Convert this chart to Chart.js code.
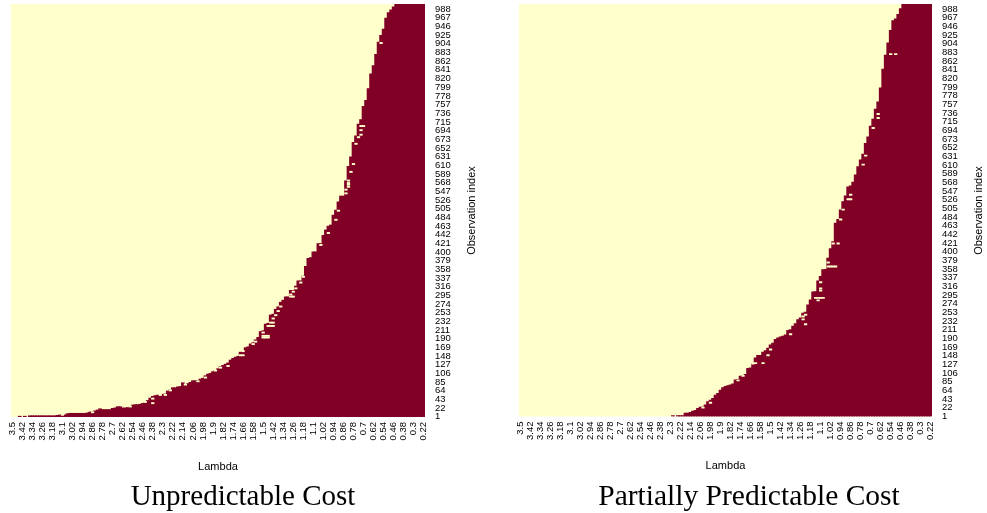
<!DOCTYPE html>
<html>
<head>
<title>Lambda heatmaps</title>
<script src="https://cdnjs.cloudflare.com/ajax/libs/Chart.js/4.4.1/chart.umd.min.js"></script>
<style>
body { margin:0; background:#fff; }
canvas { position:absolute; top:0; }
</style>
</head>
<body>
<canvas id="left" width="486" height="513" style="left:0px"></canvas>
<canvas id="right" width="482" height="513" style="left:508px"></canvas>

<script>
var lambdas = ['3.5','3.48','3.46','3.44','3.42','3.4','3.38','3.36','3.34','3.32','3.3','3.28','3.26','3.24','3.22','3.2','3.18','3.16','3.14','3.12','3.1','3.08','3.06','3.04','3.02','3','2.98','2.96','2.94','2.92','2.9','2.88','2.86','2.84','2.82','2.8','2.78','2.76','2.74','2.72','2.7','2.68','2.66','2.64','2.62','2.6','2.58','2.56','2.54','2.52','2.5','2.48','2.46','2.44','2.42','2.4','2.38','2.36','2.34','2.32','2.3','2.28','2.26','2.24','2.22','2.2','2.18','2.16','2.14','2.12','2.1','2.08','2.06','2.04','2.02','2','1.98','1.96','1.94','1.92','1.9','1.88','1.86','1.84','1.82','1.8','1.78','1.76','1.74','1.72','1.7','1.68','1.66','1.64','1.62','1.6','1.58','1.56','1.54','1.52','1.5','1.48','1.46','1.44','1.42','1.4','1.38','1.36','1.34','1.32','1.3','1.28','1.26','1.24','1.22','1.2','1.18','1.16','1.14','1.12','1.1','1.08','1.06','1.04','1.02','1','0.98','0.96','0.94','0.92','0.9','0.88','0.86','0.84','0.82','0.8','0.78','0.76','0.74','0.72','0.7','0.68','0.66','0.64','0.62','0.6','0.58','0.56','0.54','0.52','0.5','0.48','0.46','0.44','0.42','0.4','0.38','0.36','0.34','0.32','0.3','0.28','0.26','0.24','0.22'];

var xTickLabels = ['3.5','3.42','3.34','3.26','3.18','3.1','3.02','2.94','2.86','2.78','2.7','2.62','2.54','2.46','2.38','2.3','2.22','2.14','2.06','1.98','1.9','1.82','1.74','1.66','1.58','1.5','1.42','1.34','1.26','1.18','1.1','1.02','0.94','0.86','0.78','0.7','0.62','0.54','0.46','0.38','0.3','0.22'];

var yTickLabels = [1,22,43,64,85,106,127,148,169,190,211,232,253,274,295,316,337,358,379,400,421,442,463,484,505,526,547,568,589,610,631,652,673,694,715,736,757,778,799,820,841,862,883,904,925,946,967,988];

var leftValues = [
0,0,0,2,0,2,0,3,3,3,
3,3,3,3,3,3,3,3,4,5,
6,5,8,9,9,9,9,9,9,9,
10,12,13,15,17,20,18,18,18,18,
21,22,25,25,22,22,23,24,29,30,
30,31,33,35,40,46,50,52,53,54,
55,56,63,66,71,71,73,74,83,79,
81,84,88,88,89,92,94,100,104,106,
110,113,117,122,125,128,131,138,142,145,
147,157,158,168,170,177,180,187,193,207,
209,225,227,247,249,261,267,278,283,291,
291,307,307,317,330,330,341,365,384,386,
400,400,420,420,440,453,462,465,489,501,
521,535,535,572,607,630,665,681,709,720,
752,767,795,831,851,878,908,924,939,966,
979,986,993,1000,1000,1000,1000,1000,1000,1000,
1000,1000,1000,1000,1000];

var rightValues = [
0,0,0,0,0,0,0,0,0,0,
0,0,0,0,0,0,0,0,0,0,
0,0,0,0,0,0,0,0,0,0,
0,0,0,0,0,0,0,0,0,0,
0,0,0,0,0,0,0,0,0,0,
0,0,0,0,0,0,0,0,0,0,
0,2,0,2,2,2,8,8,10,13,
15,20,23,23,28,36,40,44,52,56,
64,70,73,75,77,79,89,90,98,100,
102,117,118,128,142,148,148,156,160,166,
174,178,187,191,193,195,198,209,211,219,
225,235,239,251,253,271,283,302,303,329,
340,356,357,384,407,424,469,478,501,521,
535,557,559,568,586,606,622,636,662,678,
704,721,745,763,797,842,876,906,936,960,
964,975,989,1000,1000,1000,1000,1000,1000,1000,
1000,1000,1000,1000,1000];

// single unselected observations inside the red area: lambda position and row
var leftGapCols = [136,135,134,134,134,134,133,133,130,129,126,123,116,115,113,112,111,111,112,107,106,105,104,103,104,102,103,104,100,100,101,102,100,101,102,97,96,92,91,92,86,83,81,77,74,69,63,61,59,56,56,53,47,32,20,139,140,139,139,138,137,147];
var leftGapRows = [611,592,571,565,561,556,549,540,498,476,444,415,338,324,310,302,295,290,290,266,255,245,237,227,227,219,219,219,203,195,195,195,191,191,191,181,175,158,148,148,122,118,111,94,85,77,63,52,52,43,32,35,24,10,4,703,703,693,682,676,660,904];

var rightGapCols = [138,137,132,131,132,129,128,125,127,123,123,124,125,126,120,120,120,118,119,120,121,119,114,113,113,114,108,100,99,97,94,148,150,143,143,141,73,76,87,89,93];
var rightGapRows = [631,609,536,525,525,500,476,418,418,372,362,362,362,362,324,309,304,286,286,286,286,280,245,241,234,222,198,161,147,128,128,877,877,732,722,698,20,32,86,97,127];

var CREAM = '#ffffcc';
var RED = '#800026';
var TICK_FONT = { family:'"Liberation Sans"', size:9.5 };

function gapPoints(cols, rows){
	return cols.map(function(c, i){
		return { x: lambdas[c], y: [rows[i], rows[i] + 3] };
	});
}

function drawPanel(id, caption, captionSize, values, gapCols, gapRows, axisWidth, titleX){
	var plotBottom = 417;
	var captionHeight = 30.5;

	var panelPlugin = {
		id: 'panel',
		beforeDatasetsDraw: function(chart){
			var a = chart.chartArea, c = chart.ctx;
			c.save();
			c.fillStyle = CREAM;
			c.fillRect(a.left, a.top, a.right - a.left, a.bottom - a.top);
			c.restore();
		},
		// chart.js turns a right hand axis title the other way, so it goes here
		afterDraw: function(chart){
			var c = chart.ctx;
			c.save();
			c.translate(titleX, 210.5);
			c.rotate(-Math.PI / 2);
			c.font = '11px "Liberation Sans"';
			c.fillStyle = '#000';
			c.textAlign = 'center';
			c.textBaseline = 'middle';
			c.fillText('Observation index', 0, 0);
			c.restore();
		}
	};

	new Chart(document.getElementById(id).getContext('2d'), {
		type: 'bar',
		data: {
			labels: lambdas,
			datasets: [
				{
					data: gapPoints(gapCols, gapRows),
					backgroundColor: CREAM,
					barThickness: 2.6,
					grouped: false,
					order: 1
				},
				{
					// an empty column has no bar at all, not a thin line
					data: values.map(function(v){ return v > 0 ? v : null; }),
					backgroundColor: RED,
					barThickness: 3,
					grouped: false,
					order: 2
				}
			]
		},
		plugins: [panelPlugin],
		options: {
			responsive: false,
			animation: false,
			layout: { padding: { left: 11, top: 4, right: 11, bottom: 0 } },
			plugins: {
				legend: { display: false },
				tooltip: { enabled: false },
				title: {
					display: true,
					position: 'bottom',
					text: caption,
					color: '#000',
					font: { family:'"Liberation Serif"', size:captionSize, weight:'normal', lineHeight:1 },
					padding: { top: 0, bottom: 1.5 }
				}
			},
			scales: {
				x: {
					type: 'category',
					grid: { display: false, drawTicks: false },
					border: { display: false },
					title: {
						display: true,
						text: 'Lambda',
						color: '#000',
						font: { family:'"Liberation Sans"', size:11 },
						padding: { top: 0, bottom: 9 }
					},
					ticks: {
						autoSkip: false,
						minRotation: 90,
						maxRotation: 90,
						padding: 5,
						color: '#000',
						font: TICK_FONT,
						callback: function(v, i){
							return xTickLabels.indexOf(lambdas[i]) >= 0 ? lambdas[i] : '';
						}
					},
					afterFit: function(s){
						s.height = 513 - plotBottom - captionHeight;
						s.paddingLeft = 0;
						s.paddingRight = 0;
					}
				},
				y: {
					type: 'linear',
					position: 'right',
					min: 0,
					max: 1000,
					grid: { display: false, drawTicks: false },
					border: { display: false },
					ticks: {
						autoSkip: false,
						padding: 10,
						color: '#000',
						font: TICK_FONT,
						callback: function(v){ return String(v + 0.5); }
					},
					afterBuildTicks: function(s){
						s.ticks = yTickLabels.map(function(v){ return { value: v - 0.5 }; });
					},
					afterFit: function(s){
						s.width = axisWidth;
						s.paddingTop = 0;
						s.paddingBottom = 0;
					}
				}
			}
		}
	});
}

drawPanel('left', 'Unpredictable Cost', 29, leftValues, leftGapCols, leftGapRows, 50, 471.7);
drawPanel('right', 'Partially Predictable Cost', 29.5, rightValues, rightGapCols, rightGapRows, 47, 471.3);
</script>
</body>
</html>
